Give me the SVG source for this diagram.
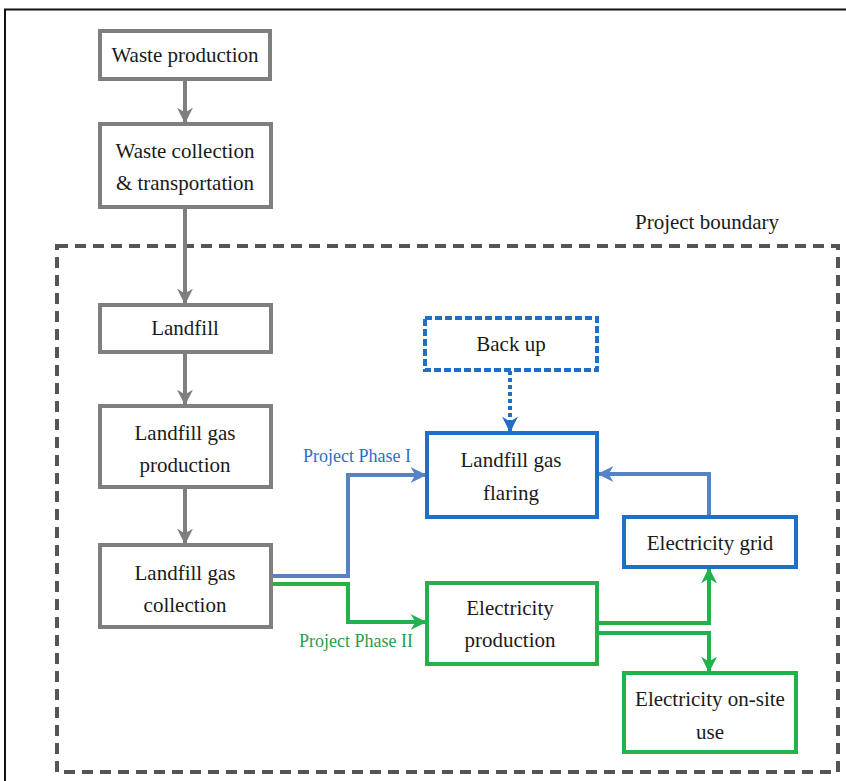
<svg xmlns="http://www.w3.org/2000/svg" width="846" height="781" viewBox="0 0 846 781">
<style>
.t{font-family:"Times New Roman","Liberation Serif",Tinos,serif;font-size:21px;fill:#1a1a1a;text-anchor:middle}
.lab{font-family:"Times New Roman","Liberation Serif",Tinos,serif;font-size:18px;text-anchor:middle}
.g{fill:#fff;stroke:#7f7f7f;stroke-width:4}
.b{fill:#fff;stroke:#1f6fc5;stroke-width:4}
.gr{fill:#fff;stroke:#22b14c;stroke-width:4}
.cg{fill:none;stroke:#7f7f7f;stroke-width:4}
.cb{fill:none;stroke:#5683c4;stroke-width:4}
.cgr{fill:none;stroke:#22b14c;stroke-width:4}
</style>
<defs>
<marker id="ag" viewBox="0 0 10 10" refX="9" refY="5" markerWidth="4" markerHeight="4" orient="auto" markerUnits="strokeWidth"><path d="M0,0 L10,5 L0,10 L3,5 z" fill="#7f7f7f"/></marker>
<marker id="ab" viewBox="0 0 10 10" refX="9" refY="5" markerWidth="4" markerHeight="4" orient="auto" markerUnits="strokeWidth"><path d="M0,0 L10,5 L0,10 L3,5 z" fill="#5683c4"/></marker>
<marker id="ab2" viewBox="0 0 10 10" refX="9" refY="5" markerWidth="4" markerHeight="4" orient="auto" markerUnits="strokeWidth"><path d="M0,0 L10,5 L0,10 L3,5 z" fill="#1f6fc5"/></marker>
<marker id="agr" viewBox="0 0 10 10" refX="9" refY="5" markerWidth="4" markerHeight="4" orient="auto" markerUnits="strokeWidth"><path d="M0,0 L10,5 L0,10 L3,5 z" fill="#22b14c"/></marker>
</defs>
<rect width="846" height="781" fill="#fff"/>
<path d="M5,781 V9.5 H846" fill="none" stroke="#111" stroke-width="2"/>
<rect id="boundary" x="57" y="246" width="781" height="526" fill="none" stroke="#555" stroke-width="4" stroke-dasharray="11,7"/>
<text class="t" x="707" y="229">Project boundary</text>
<g id="connectors">
<path class="cg" d="M185,79 V122" marker-end="url(#ag)"/>
<path class="cg" d="M185,207 V303" marker-end="url(#ag)"/>
<path class="cg" d="M185,352 V404" marker-end="url(#ag)"/>
<path class="cg" d="M185,487 V543" marker-end="url(#ag)"/>
<path class="cb" d="M272,576 H348 V475 H425" marker-end="url(#ab)"/>
<path class="cgr" d="M272,584 H348 V622 H425" marker-end="url(#agr)"/>
<path fill="none" stroke="#1f6fc5" stroke-width="4" stroke-dasharray="4,3" d="M510,371 V431" marker-end="url(#ab2)"/>
<path class="cb" d="M709,517 V474 H599" marker-end="url(#ab)"/>
<path class="cgr" d="M597,623 H709 V569" marker-end="url(#agr)"/>
<path class="cgr" d="M597,633 H709 V671" marker-end="url(#agr)"/>
<text class="lab" x="357" y="462" fill="#2a6fc9">Project Phase I</text>
<text class="lab" x="356" y="647" fill="#27a04a">Project Phase II</text>
</g>
<g id="waste-production"><rect class="g" x="100" y="31" width="170" height="48"/><text class="t" x="185" y="62">Waste production</text></g>
<g id="waste-collection"><rect class="g" x="100" y="124" width="171" height="83"/><text class="t" x="185" y="158">Waste collection</text><text class="t" x="185" y="190">&amp; transportation</text></g>
<g id="landfill"><rect class="g" x="100" y="305" width="171" height="47"/><text class="t" x="185" y="335">Landfill</text></g>
<g id="lfg-production"><rect class="g" x="100" y="406" width="171" height="81"/><text class="t" x="185" y="440">Landfill gas</text><text class="t" x="185" y="472">production</text></g>
<g id="lfg-collection"><rect class="g" x="100" y="545" width="171" height="82"/><text class="t" x="185" y="580">Landfill gas</text><text class="t" x="185" y="612">collection</text></g>
<g id="backup"><rect x="425" y="318" width="172" height="52" fill="#fff" stroke="#1f6fc5" stroke-width="4" stroke-dasharray="7,3"/><text class="t" x="511" y="351">Back up</text></g>
<g id="flaring"><rect class="b" x="427" y="433" width="170" height="84"/><text class="t" x="511" y="467">Landfill gas</text><text class="t" x="511" y="500">flaring</text></g>
<g id="grid"><rect class="b" x="624" y="517" width="172" height="50"/><text class="t" x="710" y="550">Electricity grid</text></g>
<g id="elec-production"><rect class="gr" x="427" y="583" width="170" height="81"/><text class="t" x="510" y="615">Electricity</text><text class="t" x="510" y="647">production</text></g>
<g id="onsite"><rect class="gr" x="624" y="673" width="172" height="79"/><text class="t" x="710" y="706">Electricity on-site</text><text class="t" x="710" y="739">use</text></g>
</svg>
